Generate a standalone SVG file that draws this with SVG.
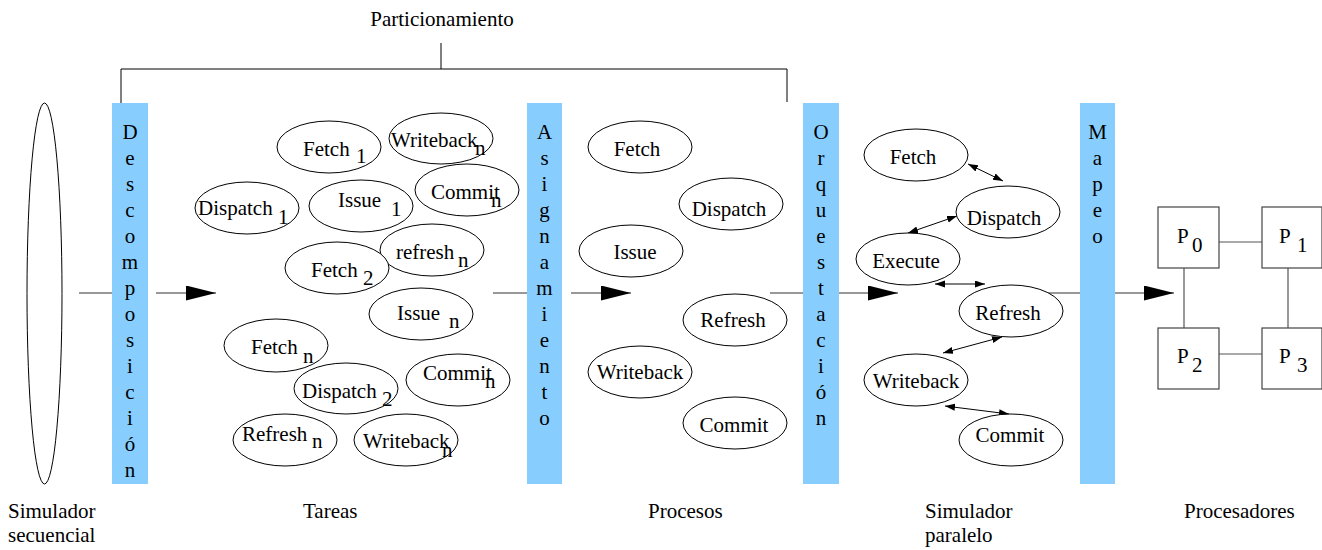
<svg xmlns="http://www.w3.org/2000/svg" width="1322" height="550" viewBox="0 0 1322 550" font-family="'Liberation Serif', 'Times New Roman', Times, serif" font-size="21">
  <style>
    text { fill: #000; }
    .mid { text-anchor: middle; }
    .bar { fill: #87CEFF; }
    .node ellipse { fill: #fff; stroke: #000; stroke-width: 1; }
    .proc rect { fill: #fff; stroke: #444; stroke-width: 1.2; }
    .flow { stroke: #333; stroke-width: 1.2; fill: none; }
    .link { stroke: #000; stroke-width: 1; fill: none; marker-start: url(#tip); marker-end: url(#tip); }
    .mesh { stroke: #555; stroke-width: 1.2; }
    .brace { stroke: #000; stroke-width: 1; fill: none; }
  </style>
  <defs>
    <marker id="head" markerUnits="userSpaceOnUse" markerWidth="31" markerHeight="16" refX="30" refY="7.5" orient="auto">
      <path d="M0,0 L30,7.5 L0,15 z" fill="#000"/>
    </marker>
    <marker id="tip" markerUnits="userSpaceOnUse" markerWidth="11" markerHeight="8" refX="10" refY="3.5" orient="auto-start-reverse">
      <path d="M0,0 L10,3.5 L0,7 z" fill="#000"/>
    </marker>
  </defs>

  <!-- Particionamiento bracket -->
  <g id="particionamiento">
    <text class="mid" x="442" y="26">Particionamiento</text>
    <path class="brace" d="M441,43 V69 M121,103 V69 H787 V102"/>
  </g>

  <!-- main flow arrows (drawn under the bars and ellipses) -->
  <g id="connectors">
    <line class="flow" x1="79" y1="293" x2="112" y2="293"/>
    <line class="flow" x1="156" y1="293" x2="216" y2="293" marker-end="url(#head)"/>
    <line class="flow" x1="493" y1="293" x2="527" y2="293"/>
    <line class="flow" x1="571" y1="293" x2="631" y2="293" marker-end="url(#head)"/>
    <line class="flow" x1="770" y1="293" x2="803" y2="293"/>
    <line class="flow" x1="839" y1="293" x2="898" y2="293" marker-end="url(#head)"/>
    <line class="flow" x1="1040" y1="293" x2="1080" y2="293"/>
    <line class="flow" x1="1115" y1="293" x2="1174" y2="293" marker-end="url(#head)"/>

    <!-- parallel simulator interactions -->
    <line class="link" x1="968" y1="164" x2="1003" y2="181"/>
    <line class="link" x1="908" y1="233" x2="957" y2="216"/>
    <line class="link" x1="935" y1="284" x2="985" y2="284"/>
    <line class="link" x1="943" y1="353" x2="1002" y2="337"/>
    <line class="link" x1="945" y1="406" x2="1009" y2="414"/>

    <!-- processor mesh -->
    <line class="mesh" x1="1219" y1="242" x2="1262" y2="242"/>
    <line class="mesh" x1="1219" y1="354" x2="1262" y2="354"/>
    <line class="mesh" x1="1184" y1="268" x2="1184" y2="328"/>
    <line class="mesh" x1="1288" y1="268" x2="1288" y2="328"/>
  </g>

  <!-- sequential simulator -->
  <g id="simulador-secuencial" class="node">
    <ellipse cx="44.5" cy="293.5" rx="17.5" ry="190.5"/>
  </g>

  <!-- stage bars -->
  <g id="descomposicion">
    <rect class="bar" x="112" y="103" width="36" height="381"/>
    <text class="mid" x="130" y="139">D</text>
    <text class="mid" x="130" y="165">e</text>
    <text class="mid" x="130" y="191">s</text>
    <text class="mid" x="130" y="217">c</text>
    <text class="mid" x="130" y="243">o</text>
    <text class="mid" x="130" y="269">m</text>
    <text class="mid" x="130" y="295">p</text>
    <text class="mid" x="130" y="321">o</text>
    <text class="mid" x="130" y="347">s</text>
    <text class="mid" x="130" y="373">i</text>
    <text class="mid" x="130" y="399">c</text>
    <text class="mid" x="130" y="425">i</text>
    <text class="mid" x="130" y="451">ó</text>
    <text class="mid" x="130" y="477">n</text>
  </g>
  <g id="asignamiento">
    <rect class="bar" x="527" y="103" width="35" height="381"/>
    <text class="mid" x="544.5" y="139">A</text>
    <text class="mid" x="544.5" y="165">s</text>
    <text class="mid" x="544.5" y="191">i</text>
    <text class="mid" x="544.5" y="217">g</text>
    <text class="mid" x="544.5" y="243">n</text>
    <text class="mid" x="544.5" y="269">a</text>
    <text class="mid" x="544.5" y="295">m</text>
    <text class="mid" x="544.5" y="321">i</text>
    <text class="mid" x="544.5" y="347">e</text>
    <text class="mid" x="544.5" y="373">n</text>
    <text class="mid" x="544.5" y="399">t</text>
    <text class="mid" x="544.5" y="425">o</text>
  </g>
  <g id="orquestacion">
    <rect class="bar" x="803" y="103" width="36" height="381"/>
    <text class="mid" x="821" y="139">O</text>
    <text class="mid" x="821" y="165">r</text>
    <text class="mid" x="821" y="191">q</text>
    <text class="mid" x="821" y="217">u</text>
    <text class="mid" x="821" y="243">e</text>
    <text class="mid" x="821" y="269">s</text>
    <text class="mid" x="821" y="295">t</text>
    <text class="mid" x="821" y="321">a</text>
    <text class="mid" x="821" y="347">c</text>
    <text class="mid" x="821" y="373">i</text>
    <text class="mid" x="821" y="399">ó</text>
    <text class="mid" x="821" y="425">n</text>
  </g>
  <g id="mapeo">
    <rect class="bar" x="1080" y="103" width="35" height="381"/>
    <text class="mid" x="1097.5" y="139">M</text>
    <text class="mid" x="1097.5" y="165">a</text>
    <text class="mid" x="1097.5" y="191">p</text>
    <text class="mid" x="1097.5" y="217">e</text>
    <text class="mid" x="1097.5" y="243">o</text>
  </g>

  <!-- tasks -->
  <g id="t-fetch1" class="node"><ellipse cx="329" cy="147" rx="52" ry="26"/><text x="303" y="156">Fetch</text><text x="356" y="163">1</text></g>
  <g id="t-writeback-a" class="node"><ellipse cx="441" cy="138.5" rx="52" ry="25.5"/><text x="391" y="147">Writeback</text><text x="475" y="155">n</text></g>
  <g id="t-dispatch1" class="node"><ellipse cx="247" cy="208" rx="52" ry="26"/><text x="198" y="215">Dispatch</text><text x="278" y="224">1</text></g>
  <g id="t-issue1" class="node"><ellipse cx="361" cy="206" rx="52" ry="26"/><text x="338" y="207">Issue</text><text x="391" y="216">1</text></g>
  <g id="t-commit-a" class="node"><ellipse cx="467" cy="190" rx="52" ry="26"/><text x="431" y="199">Commit</text><text x="491" y="207">n</text></g>
  <g id="t-refresh-a" class="node"><ellipse cx="432" cy="250" rx="52" ry="26"/><text x="396" y="259">refresh</text><text x="458" y="267">n</text></g>
  <g id="t-fetch2" class="node"><ellipse cx="337" cy="268" rx="52" ry="26"/><text x="311" y="277">Fetch</text><text x="363" y="285">2</text></g>
  <g id="t-issue-n" class="node"><ellipse cx="421" cy="314" rx="52" ry="26"/><text x="397" y="320">Issue</text><text x="449" y="328">n</text></g>
  <g id="t-fetch-n" class="node"><ellipse cx="276" cy="345.5" rx="52" ry="26.5"/><text x="251" y="354">Fetch</text><text x="303" y="363">n</text></g>
  <g id="t-commit-b" class="node"><ellipse cx="458" cy="380" rx="52" ry="26"/><text x="423" y="380">Commit</text><text x="485" y="388">n</text></g>
  <g id="t-dispatch2" class="node"><ellipse cx="346" cy="388.5" rx="52" ry="25.5"/><text x="302" y="398">Dispatch</text><text x="382" y="406">2</text></g>
  <g id="t-refresh-b" class="node"><ellipse cx="285" cy="440" rx="52" ry="26"/><text x="242" y="441">Refresh</text><text x="312" y="448">n</text></g>
  <g id="t-writeback-b" class="node"><ellipse cx="406" cy="440" rx="52" ry="26"/><text x="363" y="448">Writeback</text><text x="442" y="457">n</text></g>

  <!-- processes -->
  <g id="p-fetch" class="node"><ellipse cx="640" cy="147" rx="52" ry="26"/><text class="mid" x="637" y="156">Fetch</text></g>
  <g id="p-dispatch" class="node"><ellipse cx="731" cy="204" rx="52" ry="26"/><text class="mid" x="729" y="216">Dispatch</text></g>
  <g id="p-issue" class="node"><ellipse cx="631" cy="251" rx="52" ry="26"/><text class="mid" x="635" y="259">Issue</text></g>
  <g id="p-refresh" class="node"><ellipse cx="735" cy="320" rx="52" ry="26"/><text class="mid" x="733" y="327">Refresh</text></g>
  <g id="p-writeback" class="node"><ellipse cx="640" cy="372" rx="52" ry="26"/><text class="mid" x="640" y="379">Writeback</text></g>
  <g id="p-commit" class="node"><ellipse cx="735" cy="423" rx="52" ry="26"/><text class="mid" x="734" y="432">Commit</text></g>

  <!-- parallel simulator -->
  <g id="s-fetch" class="node"><ellipse cx="916" cy="155" rx="52" ry="26"/><text class="mid" x="913" y="164">Fetch</text></g>
  <g id="s-dispatch" class="node"><ellipse cx="1008" cy="212" rx="52" ry="26"/><text class="mid" x="1004" y="225">Dispatch</text></g>
  <g id="s-execute" class="node"><ellipse cx="908" cy="259" rx="52" ry="26"/><text class="mid" x="906" y="268">Execute</text></g>
  <g id="s-refresh" class="node"><ellipse cx="1011" cy="311" rx="52" ry="26"/><text class="mid" x="1008" y="320">Refresh</text></g>
  <g id="s-writeback" class="node"><ellipse cx="916" cy="380" rx="52" ry="26"/><text class="mid" x="916" y="388">Writeback</text></g>
  <g id="s-commit" class="node"><ellipse cx="1011" cy="440" rx="52" ry="26"/><text class="mid" x="1010" y="442">Commit</text></g>

  <!-- processors -->
  <g id="p0" class="proc"><rect x="1158" y="207" width="61" height="61"/><text x="1177" y="243">P</text><text x="1192" y="252">0</text></g>
  <g id="p1" class="proc"><rect x="1262" y="207" width="60" height="61"/><text x="1279" y="243">P</text><text x="1297" y="252">1</text></g>
  <g id="p2" class="proc"><rect x="1158" y="328" width="61" height="61"/><text x="1177" y="363">P</text><text x="1192" y="372">2</text></g>
  <g id="p3" class="proc"><rect x="1262" y="328" width="60" height="61"/><text x="1279" y="363">P</text><text x="1297" y="372">3</text></g>

  <!-- stage captions -->
  <g id="captions">
    <text x="8" y="518">Simulador</text>
    <text x="8" y="542">secuencial</text>
    <text x="303" y="518">Tareas</text>
    <text x="648" y="518">Procesos</text>
    <text x="925" y="518">Simulador</text>
    <text x="925" y="542">paralelo</text>
    <text x="1184" y="518">Procesadores</text>
  </g>
</svg>
